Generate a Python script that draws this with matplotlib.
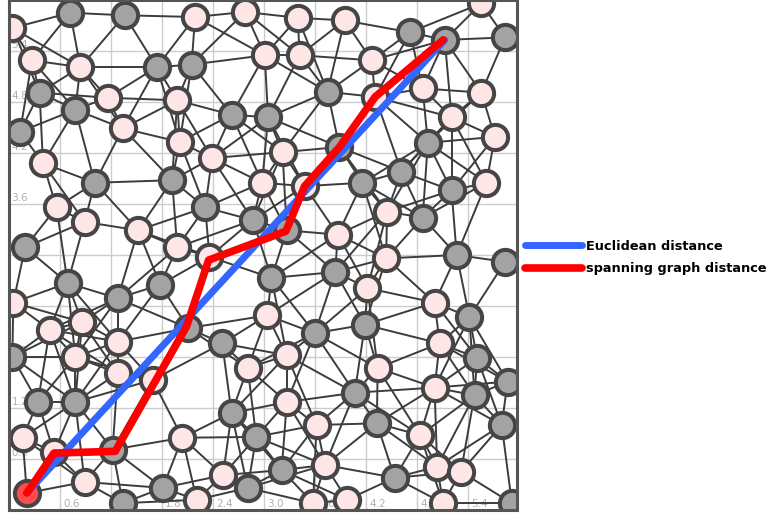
import matplotlib
matplotlib.use("Agg")
import matplotlib.pyplot as plt
import numpy as np

# node positions (data units)
gray_x = [0.72, 1.36, 1.74, 2.15, 0.36, 0.78, 2.62, 0.13, 1.01, 1.92, 2.31, 2.87, 0.19,
          4.72, 5.13, 5.84, 3.75, 3.05, 3.89, 4.93, 4.16, 4.62, 5.21, 3.27, 4.87, 5.27, 5.84,
          0.69, 1.28, 1.78, 2.11, 2.51, 0.04, 0.34, 0.78, 2.62, 1.22, 2.91, 1.81, 2.81, 1.34,
          3.09, 3.84, 3.60, 4.19, 5.42, 5.51, 5.87, 4.07, 5.48, 4.33, 5.80, 3.21, 4.54, 5.92]
gray_y = [5.85, 5.82, 5.21, 5.24, 4.91, 4.71, 4.65, 4.45, 3.85, 3.88, 3.56, 3.41, 3.09,
          5.62, 5.53, 5.56, 4.92, 4.62, 4.27, 4.32, 3.85, 3.98, 3.76, 3.29, 3.44, 3.00, 2.92,
          2.67, 2.49, 2.65, 2.14, 1.96, 1.80, 1.27, 1.27, 1.14, 0.71, 0.86, 0.26, 0.26, 0.08,
          2.73, 2.80, 2.08, 2.18, 2.27, 1.79, 1.51, 1.38, 1.35, 1.02, 1.00, 0.47, 0.38, 0.08]

pink_x = [0.04, 2.19, 2.78, 0.27, 0.84, 1.16, 1.98, 1.34, 2.01, 0.40, 2.39, 0.56, 0.89,
          1.52, 1.98, 2.36, 3.40, 3.95, 5.56, 3.01, 3.42, 4.27, 4.31, 4.87, 5.56, 5.21, 3.22,
          5.72, 2.98, 3.48, 5.62, 3.87, 4.45, 4.44, 0.05, 0.48, 0.86, 1.28, 0.78, 1.28, 1.69,
          2.81, 0.16, 0.53, 2.04, 0.89, 2.52, 2.21, 4.22, 3.04, 5.01, 5.07, 3.27, 4.34, 5.01,
          3.27, 3.62, 4.84, 3.72, 5.04, 5.32, 3.58, 3.98, 5.11]
pink_y = [5.67, 5.80, 5.86, 5.29, 5.21, 4.85, 4.82, 4.49, 4.33, 4.08, 4.14, 3.56, 3.39,
          3.29, 3.09, 2.98, 5.79, 5.76, 5.96, 5.35, 5.35, 5.29, 4.86, 4.96, 4.91, 4.62, 4.21,
          4.39, 3.85, 3.81, 3.85, 3.24, 3.51, 2.96, 2.44, 2.12, 2.21, 1.98, 1.80, 1.61, 1.53,
          1.67, 0.85, 0.68, 0.85, 0.33, 0.41, 0.12, 2.61, 2.29, 2.44, 1.96, 1.82, 1.67, 1.44,
          1.27, 1.00, 0.88, 0.53, 0.51, 0.45, 0.08, 0.12, 0.08]

start = (0.21, 0.20)
end = (5.13, 5.53)

# route along the graph
path_x = [0.21, 0.53, 1.25, 2.09, 2.35, 3.26, 3.48, 3.89, 4.31, 5.11]
path_y = [0.20, 0.67, 0.69, 2.16, 2.94, 3.28, 3.81, 4.27, 4.86, 5.53]

grid_ticks = [0.6, 1.2, 1.8, 2.4, 3.0, 3.6, 4.2, 4.8, 5.4]

fig = plt.figure(figsize=(7.66, 5.15), dpi=100)
ax = fig.add_axes([9 / 766, 5 / 515, 508 / 766, 510 / 515])
ax.set_xlim(0, 5.98)
ax.set_ylim(0, 6.0)

# grid + in-plot tick labels
for t in grid_ticks:
    ax.axvline(t, color="#cccccc", lw=1.0, zorder=0)
    ax.axhline(t, color="#cccccc", lw=1.0, zorder=0)
    ax.text(t + 0.04, 0.03, f"{t:.1f}", color="#b0b0b0", fontsize=7.5, zorder=0.5)
    ax.text(0.03, t + 0.03, f"{t:.1f}", color="#b0b0b0", fontsize=7.5, zorder=0.5)

# edges: connect nodes that are close to each other
all_x = np.array(gray_x + pink_x + [start[0]])
all_y = np.array(gray_y + pink_y + [start[1]])
radius = 0.95
for i in range(len(all_x)):
    for j in range(i + 1, len(all_x)):
        if np.hypot(all_x[i] - all_x[j], all_y[i] - all_y[j]) < radius:
            ax.plot([all_x[i], all_x[j]], [all_y[i], all_y[j]], color="#3c3c3c", lw=1.4, zorder=1)

ax.scatter(gray_x, gray_y, s=330, c="#a3a3a3", edgecolors="#454545", linewidths=2.9, zorder=2)
ax.scatter(pink_x, pink_y, s=330, c="#ffe6e6", edgecolors="#454545", linewidths=2.9, zorder=2)
ax.scatter([start[0]], [start[1]], s=330, c="#ff4d4d", edgecolors="#454545", linewidths=2.9, zorder=2)

ax.plot([start[0], end[0]], [start[1], end[1]], color="#3366ff", lw=5, solid_capstyle="round",
        zorder=3, label="Euclidean distance")
ax.plot(path_x, path_y, color="#ff0000", lw=5.5, solid_capstyle="round", solid_joinstyle="round",
        zorder=4, label="spanning graph distance")

ax.set_xticks([])
ax.set_yticks([])
for sp in ax.spines.values():
    sp.set_color("#555555")
    sp.set_linewidth(2.2)

ax.legend(loc="center left", bbox_to_anchor=(525 / 766, 0.5), bbox_transform=fig.transFigure,
          frameon=False, borderpad=0, borderaxespad=0, handlelength=4.4, handletextpad=0.3,
          labelspacing=0.75, prop={"weight": "bold", "size": 9.3})

fig.savefig("out.png", dpi=100)
